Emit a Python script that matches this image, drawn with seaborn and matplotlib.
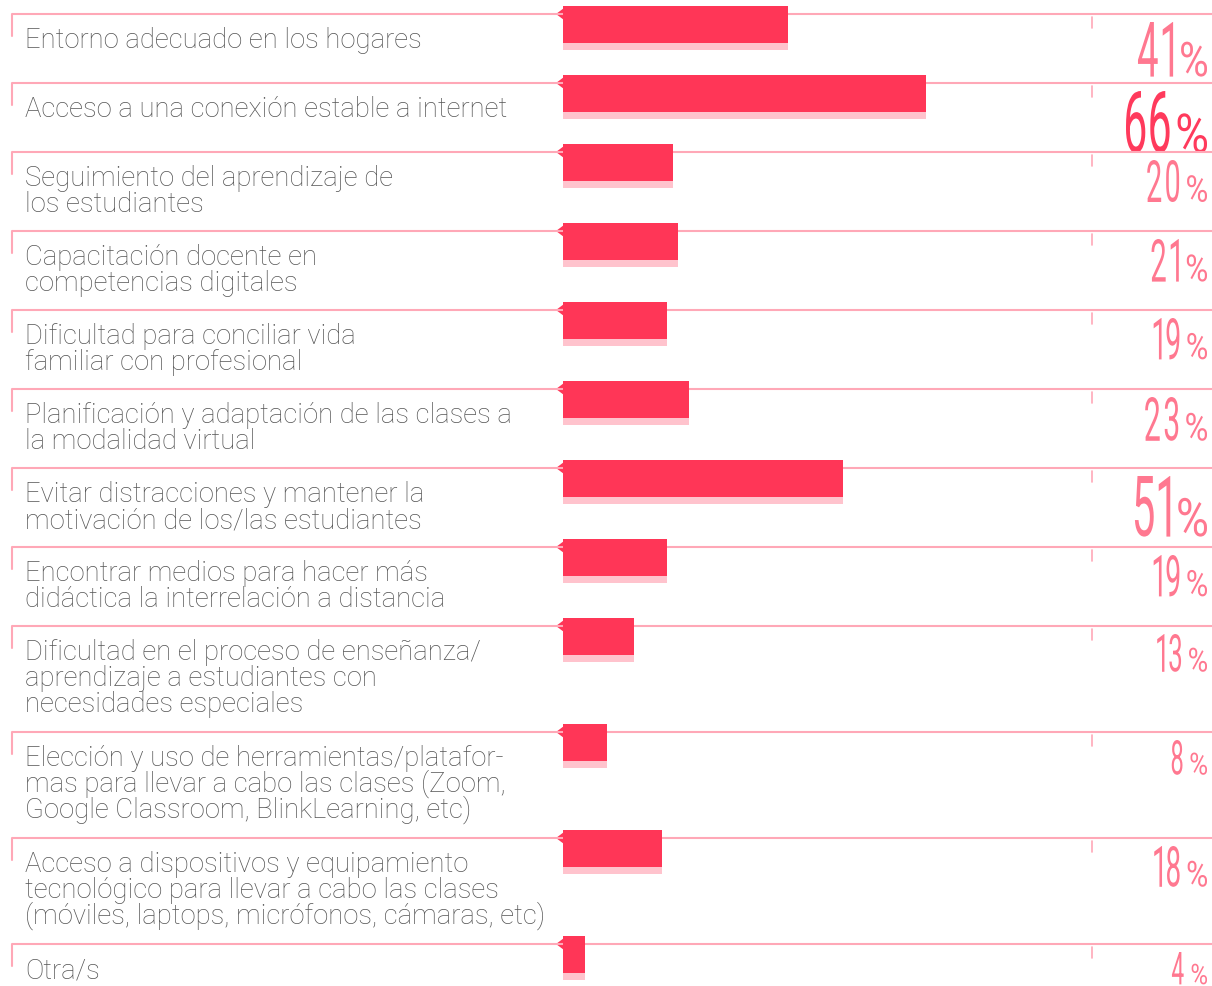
import matplotlib
matplotlib.use("Agg")
import matplotlib.pyplot as plt
import seaborn as sns
import pandas as pd
from matplotlib.textpath import TextPath
from matplotlib.patches import PathPatch
from matplotlib.font_manager import FontProperties
from matplotlib.transforms import Affine2D

# data
labels = [
    "Entorno adecuado en los hogares",
    "Acceso a una conexión estable a internet",
    "Seguimiento del aprendizaje de\nlos estudiantes",
    "Capacitación docente en\ncompetencias digitales",
    "Dificultad para conciliar vida\nfamiliar con profesional",
    "Planificación y adaptación de las clases a\nla modalidad virtual",
    "Evitar distracciones y mantener la\nmotivación de los/las estudiantes",
    "Encontrar medios para hacer más\ndidáctica la interrelación a distancia",
    "Dificultad en el proceso de enseñanza/\naprendizaje a estudiantes con\nnecesidades especiales",
    "Elección y uso de herramientas/platafor-\nmas para llevar a cabo las clases (Zoom,\nGoogle Classroom, BlinkLearning, etc)",
    "Acceso a dispositivos y equipamiento\ntecnológico para llevar a cabo las clases\n(móviles, laptops, micrófonos, cámaras, etc)",
    "Otra/s",
]
values = [41, 66, 20, 21, 19, 23, 51, 19, 13, 8, 18, 4]

# styles
BAR = "#FF3657"
SHADOW = "#FFC3CD"
RULE = "#FFA8B7"
PCT = "#FF7890"
PCT_HI = "#FF3A5C"
TEXT = "#555555"

W, H = 1212, 987
X0 = 563          # pixel where the bars start
PX_PER = 5.5      # pixels per percent

# row layout from the number of label lines
rows = []
y = 15
for lab in labels:
    rows.append(y)
    n = lab.count("\n") + 1
    y += max(69, 25 + 27 * n)

sns.set_style("white")
fig = plt.figure(figsize=(W / 100, H / 100), dpi=100)
deco = fig.add_axes([0, 0, 1, 1], zorder=0)
deco.set_xlim(0, W)
deco.set_ylim(H, 0)
deco.axis("off")

ax = fig.add_axes([0, 0, 1, 1], zorder=1)
ax.patch.set_alpha(0)

df = pd.DataFrame({"label": labels, "value": values, "row": rows})
df["bar_c"] = df["row"] - 8 + 37 / 2
df["shadow_c"] = df["row"] - 8 + 44 / 2
step = min(b - a for a, b in zip(rows[:-1], rows[1:]))

sns.barplot(data=df, x="value", y="shadow_c", orient="y", native_scale=True,
            width=44 / step, color=SHADOW, saturation=1, errorbar=None, ax=ax)
sns.barplot(data=df, x="value", y="bar_c", orient="y", native_scale=True,
            width=37 / step, color=BAR, saturation=1, errorbar=None, ax=ax)
for p in ax.patches:
    p.set_linewidth(0)
ax.set_xlim(-X0 / PX_PER, (W - X0) / PX_PER)
ax.set_ylim(H, 0)
ax.axis("off")

fp_txt = FontProperties(family=["Roboto", "DejaVu Sans"], weight="light")
fp_num = FontProperties(family=["Roboto", "DejaVu Sans"], weight="normal")


def glyphs(s, x_right, baseline, height, color, squeeze, gap):
    # draw a string right-aligned, each glyph condensed, with a fixed gap
    x = x_right
    for ch in reversed(s):
        tp = TextPath((0, 0), ch, size=1, prop=fp_num)
        bb = tp.get_extents()
        k = height / bb.height
        sx = k * squeeze
        w = bb.width * sx
        tr = (Affine2D().translate(-bb.x0, -bb.y0).scale(sx, -k)
              .translate(x - w, baseline))
        deco.add_patch(PathPatch(tr.transform_path(tp), facecolor=color,
                                 edgecolor="none"))
        x = x - w - gap
    return x + gap


for lab, v, r in zip(labels, values, rows):
    # rules and ticks
    deco.plot([12, W], [r, r], color=RULE, lw=1.5, solid_capstyle="butt")
    deco.plot([12, 12], [r, r + 22], color=RULE, lw=1.5)
    deco.plot([1092, 1092], [r + 3, r + 14], color=RULE, lw=1.2)
    # little arrow tip at bar start
    deco.fill([556, 564, 564], [r, r - 6, r + 6], color=BAR, lw=0)
    # category text
    for i, line in enumerate(lab.split("\n")):
        deco.text(25, r + 33 + 26 * i, line, fontproperties=fp_txt,
                  fontsize=19.8, color=TEXT, va="baseline", ha="left")
    # percentage
    hgt = min(62, 30 + 0.6 * v)
    col = PCT_HI if v == max(values) else PCT
    base = r + 8 + hgt
    left = glyphs("%", 1207, base, hgt * 0.64, col, 0.85, 0)
    glyphs(str(v), left - 8, base, hgt, col, 0.5, 5)

fig.savefig("out.png", dpi=100)
